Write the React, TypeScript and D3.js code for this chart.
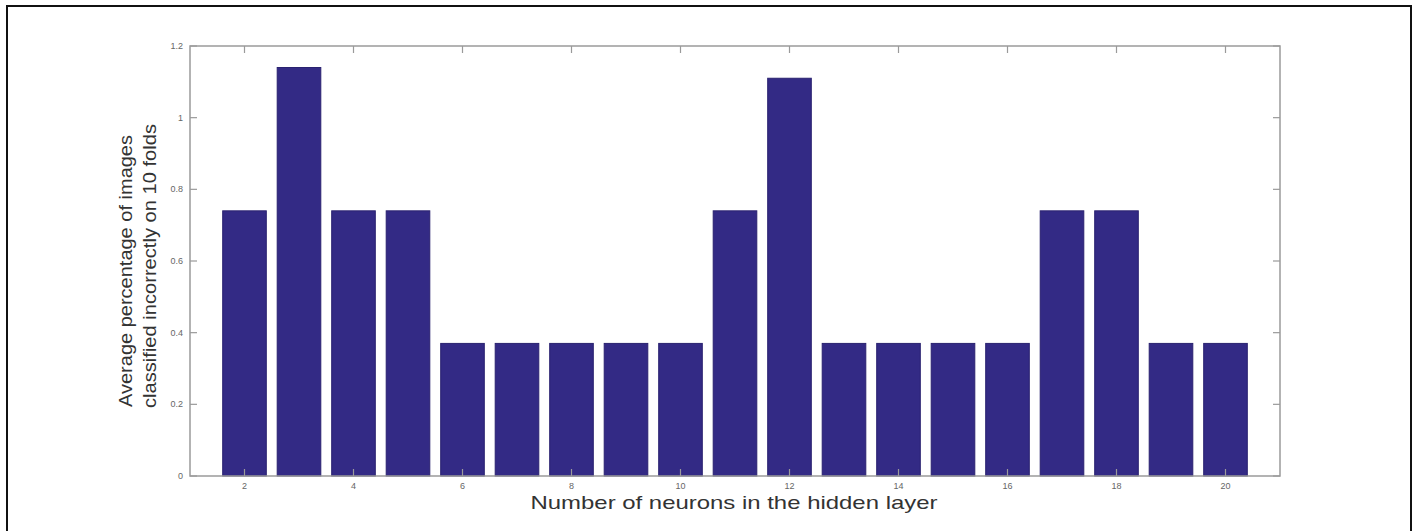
import React, { useRef, useEffect } from 'react';
import * as d3 from 'd3';

const neurons = [2, 3, 4, 5, 6, 7, 8, 9, 10, 11, 12, 13, 14, 15, 16, 17, 18, 19, 20];
const errorRates = [0.74, 1.14, 0.74, 0.74, 0.37, 0.37, 0.37, 0.37, 0.37, 0.74, 1.11, 0.37, 0.37, 0.37, 0.37, 0.74, 0.74, 0.37, 0.37];
const xTicks = [2, 4, 6, 8, 10, 12, 14, 16, 18, 20];
const yTicks = [0, 0.2, 0.4, 0.6, 0.8, 1, 1.2];
const yLabelLines = ['Average percentage of images', 'classified incorrectly on 10 folds'];
const xLabel = 'Number of neurons in the hidden layer';

const W = 1417;
const H = 531;

export default function App() {
    const svgRef = useRef(null);

    useEffect(() => {
        const svg = d3.select(svgRef.current);
        svg.selectAll('*').remove();

        const margin = { top: 46, right: 137, bottom: 55, left: 190 };
        const x0 = margin.left, x1 = W - margin.right;
        const y0 = margin.top, y1 = H - margin.bottom;

        const x = d3.scaleLinear().domain([1, 21]).range([x0, x1]);
        const y = d3.scaleLinear().domain([0, 1.2]).range([y1, y0]);
        const barW = x(1.8) - x(1);

        // outer frame
        svg.append('rect')
            .attr('x', 7).attr('y', 6)
            .attr('width', 1404).attr('height', 540)
            .attr('fill', 'none').attr('stroke', '#111').attr('stroke-width', 2);

        // bars
        svg.append('g')
            .selectAll('rect')
            .data(neurons)
            .join('rect')
            .attr('x', (d) => x(d) - barW / 2)
            .attr('y', (d, i) => y(errorRates[i]))
            .attr('width', barW)
            .attr('height', (d, i) => y(0) - y(errorRates[i]))
            .attr('fill', '#332a85')
            .attr('stroke', '#2a2270')
            .attr('stroke-width', 1);

        const axisColor = '#9a9a9a';
        const tickLen = 7;

        // box
        svg.append('rect')
            .attr('x', x0).attr('y', y0)
            .attr('width', x1 - x0).attr('height', y1 - y0)
            .attr('fill', 'none').attr('stroke', axisColor).attr('stroke-width', 1.5);

        const g = svg.append('g');
        xTicks.forEach((t) => {
            g.append('line').attr('x1', x(t)).attr('x2', x(t)).attr('y1', y1).attr('y2', y1 - tickLen)
                .attr('stroke', axisColor).attr('stroke-width', 1.2);
            g.append('line').attr('x1', x(t)).attr('x2', x(t)).attr('y1', y0).attr('y2', y0 + tickLen)
                .attr('stroke', axisColor).attr('stroke-width', 1.2);
            g.append('text').attr('x', x(t)).attr('y', y1 + 13)
                .attr('text-anchor', 'middle')
                .attr('font-family', 'Liberation Sans, Arial, sans-serif')
                .attr('font-size', 9).attr('fill', '#666')
                .text(t);
        });
        yTicks.forEach((t) => {
            g.append('line').attr('x1', x0).attr('x2', x0 + tickLen).attr('y1', y(t)).attr('y2', y(t))
                .attr('stroke', axisColor).attr('stroke-width', 1.2);
            g.append('line').attr('x1', x1).attr('x2', x1 - tickLen).attr('y1', y(t)).attr('y2', y(t))
                .attr('stroke', axisColor).attr('stroke-width', 1.2);
            g.append('text').attr('x', x0 - 7).attr('y', y(t) + 3)
                .attr('text-anchor', 'end')
                .attr('font-family', 'Liberation Sans, Arial, sans-serif')
                .attr('font-size', 9).attr('fill', '#666')
                .text(d3.format('~g')(t));
        });

        // x label
        svg.append('text')
            .attr('x', (x0 + x1) / 2 - 1).attr('y', 509)
            .attr('text-anchor', 'middle')
            .attr('font-family', 'Liberation Sans, Arial, sans-serif')
            .attr('font-size', 19).attr('fill', '#333')
            .attr('textLength', 407).attr('lengthAdjust', 'spacingAndGlyphs')
            .text(xLabel);

        // y label
        const yl = svg.append('text')
            .attr('transform', 'translate(132, 0) rotate(-90)')
            .attr('text-anchor', 'middle')
            .attr('font-family', 'Liberation Sans, Arial, sans-serif')
            .attr('font-size', 19).attr('fill', '#333');
        yl.append('tspan').attr('x', -271).attr('y', 0)
            .attr('textLength', 272).attr('lengthAdjust', 'spacingAndGlyphs')
            .text(yLabelLines[0]);
        yl.append('tspan').attr('x', -266).attr('y', 24)
            .attr('textLength', 284).attr('lengthAdjust', 'spacingAndGlyphs')
            .text(yLabelLines[1]);
    }, []);

    return (
        <svg ref={svgRef} width={W} height={H}
            style={{ position: 'absolute', left: 0, top: 0, background: '#fff' }} />
    );
}
